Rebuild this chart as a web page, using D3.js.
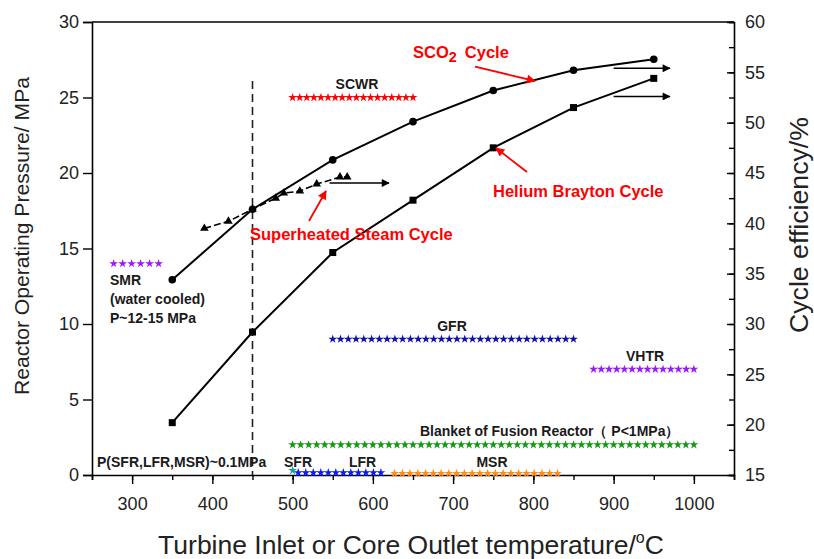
<!DOCTYPE html>
<html>
<head>
<meta charset="utf-8">
<script src="https://cdn.jsdelivr.net/npm/d3@7"></script>
<style>
  body { margin: 0; background: #fff; }
  svg { font-family: "Liberation Sans", Arial, sans-serif; }
  .lbl { font-weight: bold; font-size: 14px; fill: #1a1a1a; }
  .red { font-weight: bold; font-size: 16.5px; fill: #ff0000; }
</style>
</head>
<body>
<script>
// cycle curves (temperature vs efficiency, right axis)
const cycleTemps = [350, 450, 550, 650, 750, 850, 950];
const sco2Eff = [34.4, 41.4, 46.3, 50.1, 53.2, 55.2, 56.3];
const heliumEff = [20.2, 29.2, 37.1, 42.3, 47.5, 51.5, 54.4];
const steamTemps = [390, 420, 450, 479, 489, 509, 530, 559, 568];
const steamEff = [39.5, 40.2, 41.4, 42.5, 43.0, 43.2, 43.9, 44.6, 44.6];

// reactor outlet temperature ranges and pressures (left axis)
const reactorNames = ["SMR", "SCWR", "GFR", "VHTR", "Blanket", "SFR", "LFR", "MSR"];
const reactorRanges = [[277, 333], [500, 650], [550, 850], [875, 1000], [500, 1000], [500, 500], [507, 610], [627, 830]];
const reactorPressure = [14, 25, 9, 7, 2, 0.3, 0.15, 0.1];
const reactorStars = [6, 18, 32, 14, 51, 1, 12, 22];
const reactorColors = ["#9a1aff", "#ff0000", "#1010b0", "#9a1aff", "#129912", "#13a0a0", "#0a1aff", "#ff8c1a"];

const xTicks = [300, 400, 500, 600, 700, 800, 900, 1000];
const leftTicks = [0, 5, 10, 15, 20, 25, 30];
const rightTicks = [15, 20, 25, 30, 35, 40, 45, 50, 55, 60];

const W = 814, H = 559;
const svg = d3.select("body").append("svg").attr("width", W).attr("height", H);

const x = d3.scaleLinear().domain([250, 1050]).range([92, 734]);
const yP = d3.scaleLinear().domain([0, 30]).range([475, 22]);
const yE = d3.scaleLinear().domain([15, 60]).range([475, 22]);

const defs = svg.append("defs");
defs.append("marker").attr("id", "ahB").attr("viewBox", "0 0 10 10")
  .attr("refX", 9).attr("refY", 5).attr("markerWidth", 14).attr("markerHeight", 8)
  .attr("markerUnits", "userSpaceOnUse").attr("orient", "auto")
  .append("path").attr("d", "M0,0L10,5L0,10z").attr("fill", "#000");
defs.append("marker").attr("id", "ahR").attr("viewBox", "0 0 10 10")
  .attr("refX", 9).attr("refY", 5).attr("markerWidth", 14).attr("markerHeight", 9)
  .attr("markerUnits", "userSpaceOnUse").attr("orient", "auto")
  .append("path").attr("d", "M0,0L10,5L0,10z").attr("fill", "#ff0000");

// axes
const axisFont = g => g.selectAll("text").attr("font-size", 18).attr("fill", "#222")
  .attr("font-family", "Liberation Sans, Arial, sans-serif");

svg.append("g").attr("transform", "translate(0,475)")
  .call(d3.axisBottom(x).tickValues(d3.range(250, 1051, 50)).tickSize(5).tickFormat(""))
  .call(g => g.select(".domain").attr("stroke-width", 1.6))
  .call(g => g.selectAll(".tick line").attr("stroke-width", 1.4));
svg.append("g").attr("transform", "translate(0,475)")
  .call(d3.axisBottom(x).tickValues(xTicks).tickSize(9).tickPadding(13).tickFormat(d3.format("d")))
  .call(g => g.select(".domain").remove())
  .call(g => g.selectAll(".tick line").attr("stroke-width", 1.4))
  .call(axisFont);

svg.append("g").attr("transform", "translate(92,0)")
  .call(d3.axisLeft(yP).tickValues(leftTicks).tickSize(9).tickPadding(4))
  .call(g => g.select(".domain").attr("stroke-width", 1.6))
  .call(g => g.selectAll(".tick line").attr("stroke-width", 1.4))
  .call(axisFont);

svg.append("g").attr("transform", "translate(734,0)")
  .call(d3.axisRight(yE).tickValues(d3.range(15, 60.1, 2.5)).tickSize(-5).tickFormat(""))
  .call(g => g.select(".domain").attr("stroke-width", 1.6))
  .call(g => g.selectAll(".tick line").attr("stroke-width", 1.4));
svg.append("g").attr("transform", "translate(734,0)")
  .call(d3.axisRight(yE).tickValues(rightTicks).tickSize(-7).tickPadding(11))
  .call(g => g.select(".domain").remove())
  .call(g => g.selectAll(".tick line").attr("stroke-width", 1.4))
  .call(axisFont);

svg.append("line").attr("x1", 92).attr("x2", 734).attr("y1", 22).attr("y2", 22)
  .attr("stroke", "#000").attr("stroke-width", 1.6);

// axis titles
svg.append("text").attr("transform", "translate(29,236) rotate(-90)")
  .attr("text-anchor", "middle").attr("font-size", 21).attr("fill", "#222")
  .attr("textLength", 318).attr("lengthAdjust", "spacingAndGlyphs")
  .text("Reactor Operating Pressure/ MPa");
svg.append("text").attr("transform", "translate(808,225) rotate(-90)")
  .attr("text-anchor", "middle").attr("font-size", 25).attr("fill", "#222")
  .attr("textLength", 216).attr("lengthAdjust", "spacingAndGlyphs")
  .text("Cycle efficiency/%");
const xt = svg.append("text").attr("x", 411).attr("y", 554).attr("text-anchor", "middle")
  .attr("font-size", 26.5).attr("fill", "#222");
xt.append("tspan").text("Turbine Inlet or Core Outlet temperature/");
xt.append("tspan").attr("font-size", 16).attr("dy", -11).text("o");
xt.append("tspan").attr("dy", 11).text("C");

// dashed line at 450 C
svg.append("line").attr("x1", x(450)).attr("x2", x(450)).attr("y1", 81).attr("y2", 475)
  .attr("stroke", "#222").attr("stroke-width", 1.6).attr("stroke-dasharray", "8,5");

// reactor star rows
const star = d3.symbol().type(d3.symbolStar).size(24);
reactorNames.forEach((name, i) => {
  const [a, b] = reactorRanges[i];
  const n = reactorStars[i];
  const temps = n === 1 ? [a] : d3.range(n).map(k => a + (b - a) * k / (n - 1));
  svg.append("g").selectAll("path").data(temps).join("path")
    .attr("d", star)
    .attr("transform", t => `translate(${x(t)},${yP(reactorPressure[i])})`)
    .attr("fill", reactorColors[i]);
});

// cycle lines
const line = d3.line().x(d => x(d[0])).y(d => yE(d[1]));
const sco2 = cycleTemps.map((t, i) => [t, sco2Eff[i]]);
const helium = cycleTemps.map((t, i) => [t, heliumEff[i]]);
const steam = steamTemps.map((t, i) => [t, steamEff[i]]);

svg.append("path").datum(steam).attr("d", line).attr("fill", "none")
  .attr("stroke", "#000").attr("stroke-width", 1.6).attr("stroke-dasharray", "7,3");
svg.append("g").selectAll("path").data(steam).join("path")
  .attr("d", d3.symbol().type(d3.symbolTriangle).size(32))
  .attr("transform", d => `translate(${x(d[0])},${yE(d[1])})`);

svg.append("path").datum(sco2).attr("d", line).attr("fill", "none")
  .attr("stroke", "#000").attr("stroke-width", 2);
svg.append("g").selectAll("circle").data(sco2).join("circle")
  .attr("cx", d => x(d[0])).attr("cy", d => yE(d[1])).attr("r", 3.8).attr("fill", "#000");

svg.append("path").datum(helium).attr("d", line).attr("fill", "none")
  .attr("stroke", "#000").attr("stroke-width", 2);
svg.append("g").selectAll("rect").data(helium).join("rect")
  .attr("x", d => x(d[0]) - 3.5).attr("y", d => yE(d[1]) - 3.5)
  .attr("width", 7).attr("height", 7).attr("fill", "#000");

// black arrows pointing to right axis
const blackArrows = [[[900, 55.4], [970, 55.4]], [[900, 52.6], [970, 52.6]], [[546, 44.0], [620, 44.0]]];
blackArrows.forEach(a => {
  svg.append("line").attr("x1", x(a[0][0])).attr("y1", yE(a[0][1]))
    .attr("x2", x(a[1][0])).attr("y2", yE(a[1][1]))
    .attr("stroke", "#000").attr("stroke-width", 1.6).attr("marker-end", "url(#ahB)");
});

// red annotation arrows
const redArrows = [[[475, 66.7], [535, 81]], [[527, 172], [496, 148]], [[309, 221], [326, 191]]];
redArrows.forEach(a => {
  svg.append("line").attr("x1", a[0][0]).attr("y1", a[0][1]).attr("x2", a[1][0]).attr("y2", a[1][1])
    .attr("stroke", "#ff0000").attr("stroke-width", 1.8).attr("marker-end", "url(#ahR)");
});

// red labels
const sc = svg.append("text").attr("class", "red").attr("x", 413).attr("y", 58);
sc.append("tspan").text("SCO");
sc.append("tspan").attr("dy", 4).attr("font-size", 14.5).text("2");
sc.append("tspan").attr("dy", -4).attr("dx", 8).text("Cycle");
svg.append("text").attr("class", "red").attr("x", 493).attr("y", 197).text("Helium Brayton Cycle");
svg.append("text").attr("class", "red").attr("x", 250).attr("y", 240).text("Superheated Steam Cycle");

// black labels
const labels = [
  ["SCWR", 357, 89, "middle"],
  ["GFR", 452, 331, "middle"],
  ["VHTR", 645, 361, "middle"],
  ["Blanket of Fusion Reactor（ P<1MPa）", 420, 436, "start"],
  ["MSR", 492, 467, "middle"],
  ["SFR", 284, 467, "start"],
  ["LFR", 349, 467, "start"],
  ["P(SFR,LFR,MSR)~0.1MPa", 97, 467, "start"],
  ["SMR", 110, 285, "start"],
  ["(water cooled)", 110, 304, "start"],
  ["P~12-15 MPa", 110, 323, "start"]
];
svg.append("g").selectAll("text").data(labels).join("text")
  .attr("class", "lbl").attr("x", d => d[1]).attr("y", d => d[2])
  .attr("text-anchor", d => d[3]).text(d => d[0]);
</script>
</body>
</html>
